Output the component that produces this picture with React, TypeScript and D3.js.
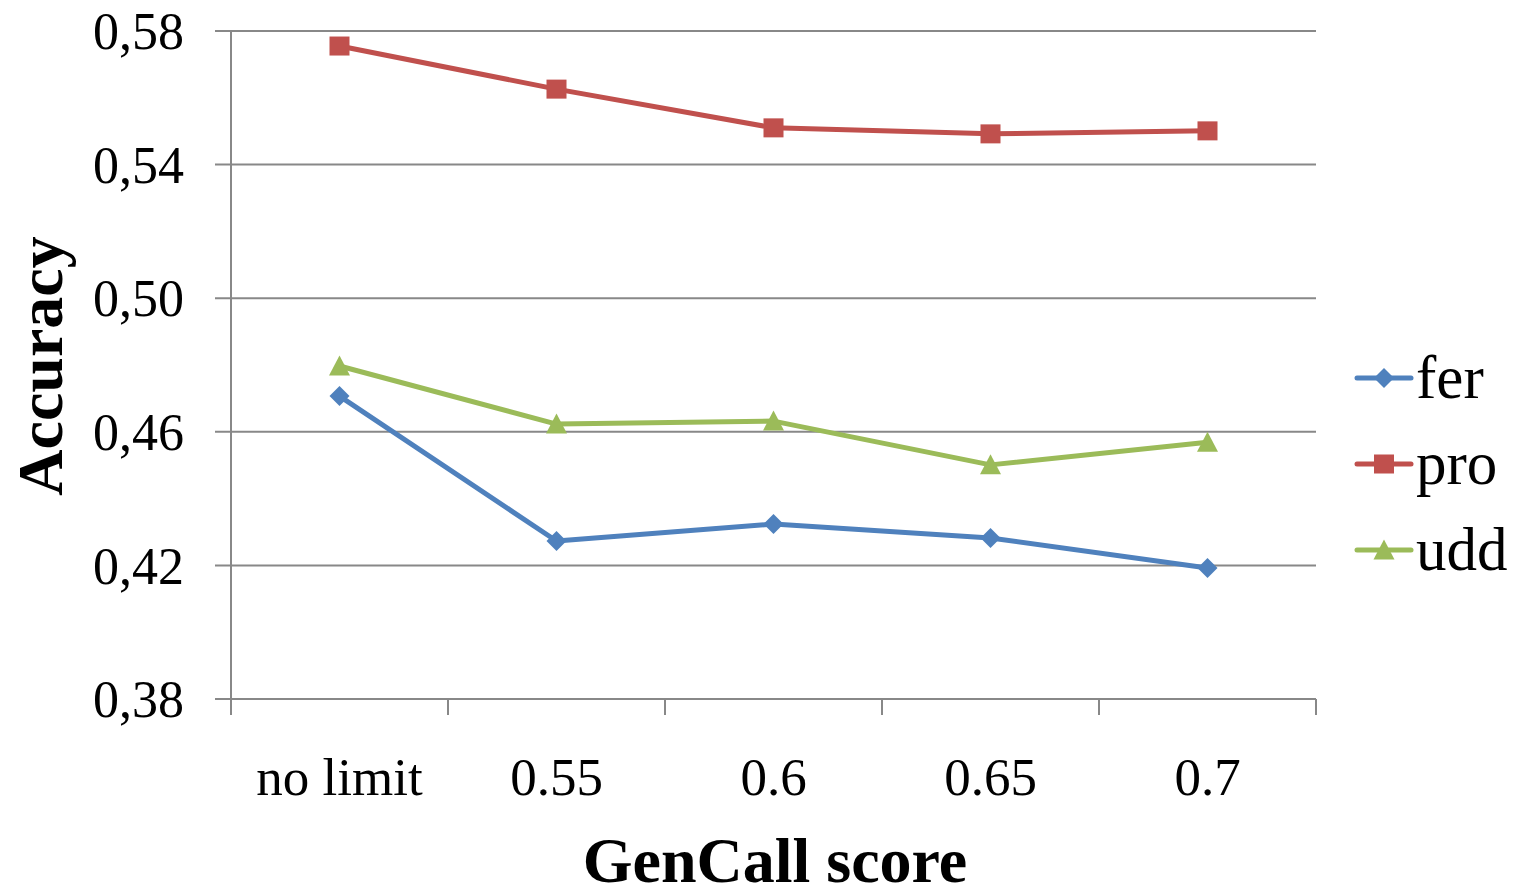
import React from "react";
import * as d3 from "d3";

const categories = ["no limit", "0.55", "0.6", "0.65", "0.7"];
const yTicks = [0.38, 0.42, 0.46, 0.5, 0.54, 0.58];
const ferValues = [0.4707, 0.4273, 0.4324, 0.4282, 0.4192];
const proValues = [0.5755, 0.5626, 0.551, 0.5492, 0.5501];
const uddValues = [0.4797, 0.4623, 0.4632, 0.4501, 0.4569];
const seriesNames = ["fer", "pro", "udd"];
const seriesColors = ["#4F81BD", "#C0504D", "#9BBB59"];
const seriesShapes = ["diamond", "square", "triangle"];

const W = 1523, H = 896;
const left = 231, right = 1316, top = 31, bottom = 699;
const FONT = "'Liberation Serif', 'Times New Roman', serif";

function Marker({ shape, x, y, color }: { shape: string; x: number; y: number; color: string }) {
  if (shape === "square") return <rect x={x - 10} y={y - 9.5} width={20} height={19} fill={color} />;
  if (shape === "diamond")
    return <path d={`M${x},${y - 10} L${x + 10},${y} L${x},${y + 10} L${x - 10},${y} Z`} fill={color} />;
  return <path d={`M${x},${y - 10.5} L${x + 10.5},${y + 9.5} L${x - 10.5},${y + 9.5} Z`} fill={color} />;
}

export default function App() {
  const x = d3.scaleBand().domain(categories).range([left, right]);
  const y = d3.scaleLinear().domain([0.38, 0.58]).range([bottom, top]);
  const allSeries = [ferValues, proValues, uddValues];
  const line = d3
    .line<number>()
    .x((_, i) => x(categories[i])! + x.bandwidth() / 2)
    .y((d) => y(d));
  const fmt = (v: number) => v.toFixed(2).replace(".", ",");
  const bounds = [...categories.map((c) => x(c)!), right];
  return (
    <svg width={W} height={H} style={{ position: "absolute", left: 0, top: 0 }} fontFamily={FONT}>
      <rect width={W} height={H} fill="#fff" />
      {yTicks.map((t) => (
        <g key={t}>
          <line x1={215} x2={right} y1={y(t)} y2={y(t)} stroke="#888" strokeWidth={2} />
          <text x={184} y={y(t)} dy="0.35em" textAnchor="end" fontSize={52}>
            {fmt(t)}
          </text>
        </g>
      ))}
      <line x1={left} x2={left} y1={top} y2={bottom} stroke="#888" strokeWidth={2} />
      {bounds.map((b, i) => (
        <line key={i} x1={b} x2={b} y1={bottom} y2={bottom + 16} stroke="#888" strokeWidth={2} />
      ))}
      {categories.map((c) => (
        <text key={c} x={x(c)! + x.bandwidth() / 2} y={795} textAnchor="middle" fontSize={53}>
          {c}
        </text>
      ))}
      {allSeries.map((vals, si) => (
        <g key={si}>
          <path d={line(vals)!} fill="none" stroke={seriesColors[si]} strokeWidth={5} strokeLinejoin="round" />
          {vals.map((v, i) => (
            <Marker key={i} shape={seriesShapes[si]} x={x(categories[i])! + x.bandwidth() / 2} y={y(v)} color={seriesColors[si]} />
          ))}
        </g>
      ))}
      <text x={775} y={882} textAnchor="middle" fontSize={64} fontWeight="bold">
        GenCall score
      </text>
      <text transform="translate(62,366) rotate(-90)" textAnchor="middle" fontSize={64} fontWeight="bold">
        Accuracy
      </text>
      {seriesNames.map((n, i) => {
        const ly = 378 + i * 86;
        return (
          <g key={n}>
            <line x1={1357} x2={1411} y1={ly} y2={ly} stroke={seriesColors[i]} strokeWidth={5} strokeLinecap="round" />
            <Marker shape={seriesShapes[i]} x={1384} y={ly} color={seriesColors[i]} />
            <text x={1416} y={ly} dy="0.33em" fontSize={61}>
              {n}
            </text>
          </g>
        );
      })}
    </svg>
  );
}
